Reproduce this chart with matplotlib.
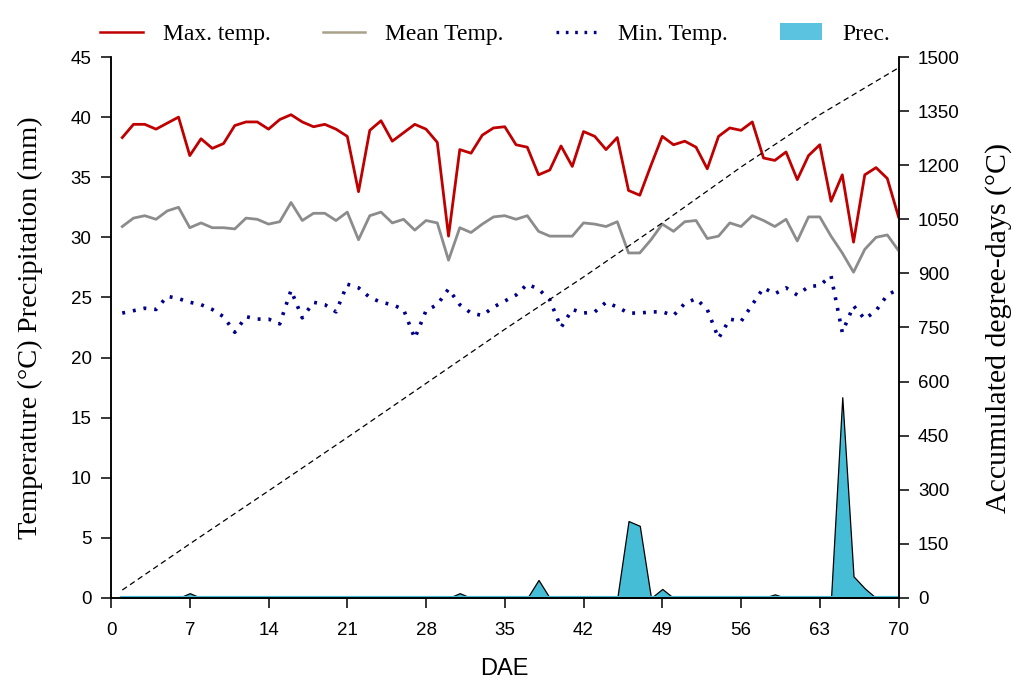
import matplotlib
matplotlib.use('Agg')
import matplotlib.pyplot as plt
import numpy as np
from matplotlib.lines import Line2D
from matplotlib.patches import Patch

# days after emergence
dae = np.arange(1, 71)

tmax = [38.3, 39.4, 39.4, 39.0, 39.5, 40.0, 36.8, 38.2, 37.4, 37.8,
        39.3, 39.6, 39.6, 39.0, 39.8, 40.2, 39.6, 39.2, 39.4, 39.0,
        38.4, 33.8, 38.9, 39.7, 38.0, 38.7, 39.4, 39.0, 37.9, 30.1,
        37.3, 37.0, 38.5, 39.1, 39.2, 37.7, 37.5, 35.2, 35.6, 37.6,
        35.9, 38.8, 38.4, 37.3, 38.3, 33.9, 33.5, 36.0, 38.4, 37.7,
        38.0, 37.5, 35.7, 38.4, 39.1, 38.9, 39.6, 36.6, 36.4, 37.1,
        34.8, 36.8, 37.7, 33.0, 35.2, 29.6, 35.2, 35.8, 34.9, 31.7]

tmean = [30.9, 31.6, 31.8, 31.5, 32.2, 32.5, 30.8, 31.2, 30.8, 30.8,
         30.7, 31.6, 31.5, 31.1, 31.3, 32.9, 31.4, 32.0, 32.0, 31.4,
         32.1, 29.8, 31.8, 32.1, 31.2, 31.5, 30.6, 31.4, 31.2, 28.1,
         30.8, 30.4, 31.1, 31.7, 31.8, 31.5, 31.8, 30.5, 30.1, 30.1,
         30.1, 31.2, 31.1, 30.9, 31.3, 28.7, 28.7, 29.8, 31.1, 30.5,
         31.3, 31.4, 29.9, 30.1, 31.2, 30.9, 31.8, 31.4, 30.9, 31.5,
         29.7, 31.7, 31.7, 30.1, 28.7, 27.1, 29.0, 30.0, 30.2, 28.9]

tmin = [23.7, 23.9, 24.1, 24.0, 25.1, 24.9, 24.6, 24.4, 24.0, 23.4,
        22.1, 23.4, 23.2, 23.2, 22.8, 25.6, 23.3, 24.6, 24.4, 23.8,
        26.1, 25.8, 25.0, 24.6, 24.4, 24.0, 21.6, 23.9, 24.4, 25.7,
        24.4, 23.7, 23.5, 24.2, 24.7, 25.2, 26.1, 25.7, 24.8, 22.5,
        24.0, 23.7, 23.8, 24.6, 24.2, 23.7, 23.7, 23.8, 23.8, 23.5,
        24.5, 24.9, 24.0, 21.6, 23.2, 23.0, 24.4, 25.8, 25.3, 25.8,
        25.2, 25.9, 26.0, 26.8, 22.1, 24.3, 23.2, 23.9, 25.2, 25.7]

prec = np.zeros(70)
prec_days = [7, 31, 38, 46, 47, 49, 59, 65, 66, 67]
prec_vals = [0.4, 0.4, 1.5, 6.4, 6.0, 0.75, 0.3, 16.7, 1.8, 0.8]
prec[np.array(prec_days) - 1] = prec_vals

# accumulated degree-days
gdd_days = [1, 7, 14, 21, 28, 35, 42, 49, 56, 63, 70]
gdd = [22, 150, 297, 445, 595, 745, 890, 1040, 1195, 1340, 1470]

serif = 'Liberation Serif'
sans = 'Liberation Sans'

fig = plt.figure(figsize=(10.13, 6.82), dpi=100)
ax = fig.add_axes([0.1096, 0.1232, 0.7774, 0.7932])
ax2 = ax.twinx()

ax.fill_between(dae, prec, 0, facecolor='#46bdd7', edgecolor='black', lw=0.9, zorder=1)
ax.plot(dae, prec * 0, color='#46bdd7', lw=3, zorder=1)
ax.plot(dae, tmax, color='#c00000', lw=2.0, zorder=3)
ax.plot(dae, tmean, color='#8c8c8c', lw=2.0, zorder=3)
ax.plot(dae, tmin, color='#00008b', lw=2.6, dashes=(0.8, 2.2), zorder=3)
ax2.plot(gdd_days, gdd, color='black', lw=0.9, dashes=(4.5, 3))

ax.set_xlim(0, 70)
ax.set_ylim(0, 45)
ax2.set_ylim(0, 1500)
ax.set_xticks(np.arange(0, 71, 7))
ax.set_yticks(np.arange(0, 46, 5))
ax2.set_yticks(np.arange(0, 1501, 150))

for a in (ax, ax2):
    a.spines['top'].set_visible(False)
    for s in ('left', 'right', 'bottom'):
        a.spines[s].set_linewidth(1.1)
    a.tick_params(direction='out', length=7, width=1.1, labelsize=13.5, pad=7)
    for lab in a.get_xticklabels() + a.get_yticklabels():
        lab.set_fontfamily(sans)
ax.tick_params(axis='x', pad=10)

ax.set_xlabel('DAE', fontsize=17, fontfamily=sans, labelpad=14)
ax.set_ylabel('Temperature (°C) Precipitation (mm)', fontsize=20.5, fontfamily=serif, labelpad=20)
ax2.set_ylabel('Accumulated degree-days (°C)', fontsize=21.5, fontfamily=serif, labelpad=18)

handles = [Line2D([], [], color='#c00000', lw=1.8),
           Line2D([], [], color='#a9a28a', lw=1.8),
           Line2D([], [], color='#00008b', lw=2.4, dashes=(0.8, 2.0)),
           Patch(facecolor='#5bc3e0', edgecolor='none')]
labels = ['Max. temp.', 'Mean Temp.', 'Min. Temp.', 'Prec.']
fig.legend(handles, labels, loc='upper center', bbox_to_anchor=(0.489, 0.997), ncol=4,
           frameon=False, prop={'family': serif, 'size': 17}, handlelength=1.8,
           handletextpad=0.85, columnspacing=2.2)

plt.savefig('out.png', dpi=100)
